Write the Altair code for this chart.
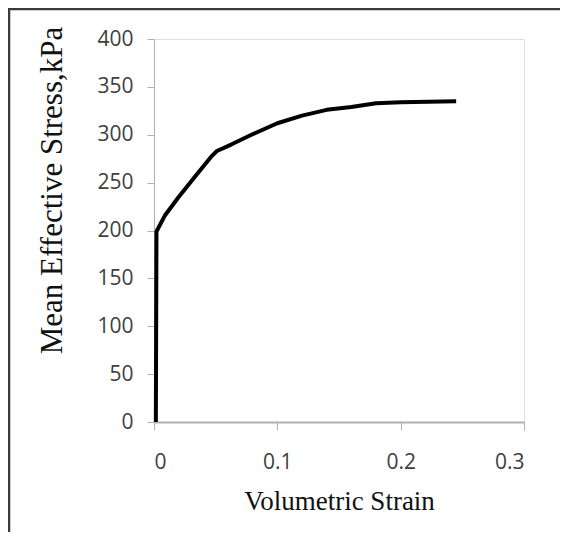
import altair as alt
import pandas as pd

strain = [0.0015, 0.002, 0.009, 0.02, 0.033, 0.047, 0.051, 0.063, 0.079, 0.1, 0.12, 0.14, 0.16, 0.18, 0.2, 0.245]
stress = [0, 199, 216, 235, 256, 278, 283, 290, 300, 312, 320, 326, 329, 333, 334, 335]
x_ticks = [0, 0.1, 0.2, 0.3]
y_ticks = [0, 50, 100, 150, 200, 250, 300, 350, 400]

df = pd.DataFrame({"strain": strain, "stress": stress})

W, H = 370, 383

curve = alt.Chart(df).mark_line(color="black", strokeWidth=4, strokeJoin="round").encode(
    x=alt.X("strain:Q",
            scale=alt.Scale(domain=[0, 0.3], nice=False, zero=True),
            axis=alt.Axis(values=x_ticks, format="~g", title="Volumetric Strain",
                          grid=False, domainColor="#b0b0b0", domainWidth=2,
                          tickColor="#b0b0b0", tickSize=8, tickWidth=1,
                          labelFont="Open Sans", labelFontSize=21, labelColor="#404040",
                          labelPadding=21,
                          titleFont="Liberation Serif", titleFontSize=27,
                          titleFontWeight="normal", titleColor="#111111",
                          titlePadding=16)),
    y=alt.Y("stress:Q",
            scale=alt.Scale(domain=[0, 400], nice=False),
            axis=alt.Axis(values=y_ticks, title="Mean Effective Stress,kPa",
                          grid=False, domainColor="#b0b0b0", domainWidth=1,
                          tickColor="#b0b0b0", tickSize=7, tickWidth=1,
                          labelFont="Open Sans", labelFontSize=21, labelColor="#404040",
                          labelPadding=14,
                          titleFont="Liberation Serif", titleFontSize=31,
                          titleFontWeight="normal", titleColor="#111111",
                          titleAngle=270, titleAlign="center", titleBaseline="middle",
                          titleX=-102, titleY=151)),
    order=alt.Order("strain:Q"),
)

one = alt.Data(values=[{"a": 1}])
top_line = alt.Chart(one).mark_rule(color="#3a3a3a", strokeWidth=2.5).encode(
    x=alt.value(-146), x2=alt.value(406), y=alt.value(-30))
left_line = alt.Chart(one).mark_rule(color="#3a3a3a", strokeWidth=2.5).encode(
    x=alt.value(-145), y=alt.value(-31), y2=alt.value(500))

chart = alt.layer(top_line, left_line, curve).properties(
    width=W, height=H,
    autosize=alt.AutoSizeParams(type="none"),
    padding={"left": 146, "top": 31, "right": 36, "bottom": 110},
).configure_view(stroke=None).configure(background="white")

chart.save("out.html", embed_options={"renderer": "svg", "actions": False})
